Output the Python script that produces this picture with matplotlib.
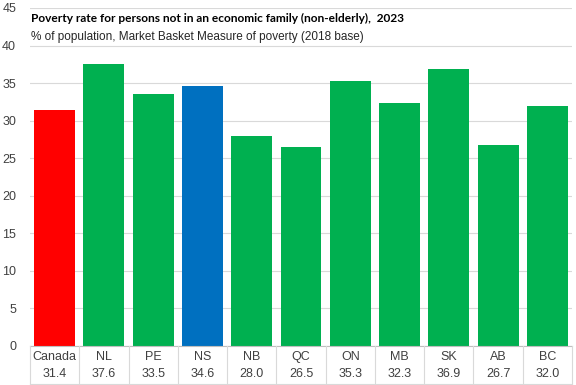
import matplotlib.pyplot as plt
from matplotlib.lines import Line2D

regions = ["Canada", "NL", "PE", "NS", "NB", "QC", "ON", "MB", "SK", "AB", "BC"]
rates = [31.4, 37.6, 33.5, 34.6, 28.0, 26.5, 35.3, 32.3, 36.9, 26.7, 32.0]
colours = ["#FF0000", "#00B050", "#00B050", "#0070C0", "#00B050", "#00B050",
           "#00B050", "#00B050", "#00B050", "#00B050", "#00B050"]
yticks = [0, 5, 10, 15, 20, 25, 30, 35, 40, 45]

plt.rcParams["font.family"] = ["Liberation Sans", "DejaVu Sans"]

W, H = 576, 385
fig = plt.figure(figsize=(W / 100, H / 100), dpi=100)
left, right, top, bottom = 30, 572, 8, 346
ax = fig.add_axes([left / W, 1 - bottom / H, (right - left) / W, (bottom - top) / H])

x = list(range(len(regions)))
ax.bar(x, rates, width=0.83, color=colours, zorder=2)
ax.set_xlim(-0.5, len(regions) - 0.5)
ax.set_ylim(0, 45)
ax.set_yticks(yticks)
ax.set_xticks([])
ax.grid(axis="y", color="#D9D9D9", lw=0.8, zorder=0)
for s in ["top", "right", "left"]:
    ax.spines[s].set_visible(False)
ax.spines["bottom"].set_color("#BFBFBF")
ax.tick_params(axis="y", length=0, labelsize=9, colors="#404040", pad=10)

# data table under the axis
fx = lambda v: (left + (v + 0.5) * (right - left) / len(regions)) / W
fy = lambda p: 1 - p / H
for i, (r, v) in enumerate(zip(regions, rates)):
    fig.text(fx(i), fy(357), r, ha="center", va="center", fontsize=9, color="#404040")
    fig.text(fx(i), fy(374), f"{v:.1f}", ha="center", va="center", fontsize=9, color="#404040")
for i in range(len(regions) + 1):
    fig.add_artist(Line2D([fx(i - 0.5)] * 2, [fy(346), fy(384)], color="#D9D9D9", lw=0.8))
fig.add_artist(Line2D([fx(-0.5), fx(len(regions) - 0.5)], [fy(384)] * 2, color="#D9D9D9", lw=0.8))

fig.text(31 / W, fy(18), "Poverty rate for persons not in an economic family (non-elderly),  2023",
         fontsize=8.6, fontweight="bold", va="center", ha="left",
         family=["Lato", "Liberation Sans", "DejaVu Sans"])
fig.text(31 / W, fy(37), "% of population, Market Basket Measure of poverty (2018 base)",
         fontsize=8.5, va="center", ha="left", color="#262626")

fig.savefig("out.png", dpi=100)
